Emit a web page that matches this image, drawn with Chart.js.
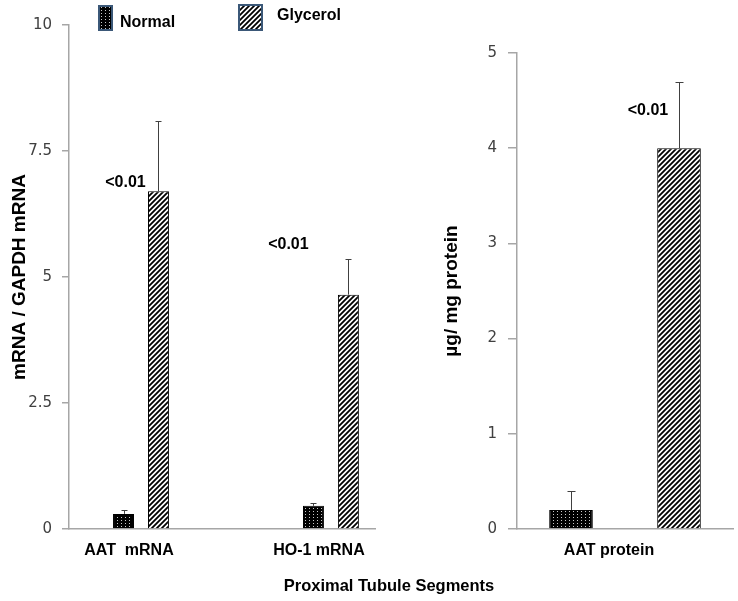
<!DOCTYPE html>
<html>
<head>
<meta charset="utf-8">
<script src="https://cdn.jsdelivr.net/npm/chart.js@4.4.0/dist/chart.umd.min.js"></script>
<style>
  body { margin: 0; background: #fff; width: 738px; height: 601px; position: relative; overflow: hidden; }
  canvas { position: absolute; top: 0; }
  #mrnaChart { left: 0; }
  #proteinChart { left: 420px; }
  #xTitle { position: absolute; left: 0; width: 778px; top: 576px; text-align: center;
            font: bold 16.5px "Liberation Sans", Arial, sans-serif; color: #000; }
</style>
</head>
<body>
<canvas id="mrnaChart" width="420" height="601"></canvas>
<canvas id="proteinChart" width="318" height="601"></canvas>
<div id="xTitle">Proximal Tubule Segments</div>
<script>
// Data
const seriesNames = ['Normal', 'Glycerol'];
const pLabel = '<0.01';

const mrnaLabels = ['AAT  mRNA', 'HO-1 mRNA'];
const mrnaNormal = [0.30, 0.46];
const mrnaNormalErr = [0.08, 0.05];
const mrnaGlycerol = [6.70, 4.65];
const mrnaGlycerolErr = [1.40, 0.70];
const mrnaTicks = [0, 2.5, 5, 7.5, 10];

const proteinLabels = ['AAT protein'];
const proteinNormal = [0.20];
const proteinNormalErr = [0.20];
const proteinGlycerol = [4.00];
const proteinGlycerolErr = [0.70];
const proteinTicks = [0, 1, 2, 3, 4, 5];

const boldFont = '"Liberation Sans", Arial, sans-serif';
const axisGray = '#a6a6a6';

// Fill patterns (dotted black, diagonal stripes)
function dotPattern(ctx) {
    const c = document.createElement('canvas');
    c.width = 4; c.height = 3;
    const g = c.getContext('2d');
    g.fillStyle = '#000';
    g.fillRect(0, 0, 4, 3);
    g.fillStyle = '#c8c8c8';
    g.fillRect(1, 1, 1, 1);
    return ctx.createPattern(c, 'repeat');
}

function stripePattern(ctx) {
    const s = 5;
    const c = document.createElement('canvas');
    c.width = s; c.height = s;
    const g = c.getContext('2d');
    g.fillStyle = '#fff';
    g.fillRect(0, 0, s, s);
    g.strokeStyle = '#000';
    g.lineWidth = 1.8;
    g.beginPath();
    g.moveTo(-1, 1); g.lineTo(1, -1);
    g.moveTo(0, s); g.lineTo(s, 0);
    g.moveTo(s - 1, s + 1); g.lineTo(s + 1, s - 1);
    g.stroke();
    return ctx.createPattern(c, 'repeat');
}

// Error bars (upper whisker only)
const errorBars = {
    id: 'errorBars',
    afterDatasetsDraw(chart, args, opts) {
        const ctx = chart.ctx;
        const y = chart.scales.y;
        ctx.save();
        ctx.strokeStyle = '#404040';
        ctx.lineWidth = 1;
        opts.errors.forEach((errs, di) => {
            const meta = chart.getDatasetMeta(di);
            meta.data.forEach((bar, i) => {
                const v = chart.data.datasets[di].data[i];
                const top = Math.round(y.getPixelForValue(v + errs[i])) + 0.5;
                const x = Math.round(bar.x) + 0.5;
                ctx.beginPath();
                ctx.moveTo(x, bar.y);
                ctx.lineTo(x, top);
                ctx.moveTo(x - opts.cap, top);
                ctx.lineTo(x + opts.cap, top);
                ctx.stroke();
            });
        });
        ctx.restore();
    }
};

// "<0.01" notes next to the glycerol bars
const pNotes = {
    id: 'pNotes',
    afterDatasetsDraw(chart, args, opts) {
        const ctx = chart.ctx;
        const meta = chart.getDatasetMeta(1);
        ctx.save();
        ctx.font = 'bold 16px ' + boldFont;
        ctx.fillStyle = '#000';
        ctx.textAlign = 'center';
        ctx.textBaseline = 'middle';
        opts.notes.forEach((n, i) => {
            const bar = meta.data[i];
            ctx.fillText(pLabel, bar.x + n.dx, bar.y + n.dy);
        });
        ctx.restore();
    }
};

// Legend boxes at the top of the left chart
const legendBoxes = {
    id: 'legendBoxes',
    afterDraw(chart, args, opts) {
        const ctx = chart.ctx;
        ctx.save();
        opts.items.forEach((it, i) => {
            ctx.fillStyle = chart.data.datasets[i].backgroundColor;
            ctx.fillRect(it.x, it.y, it.w, it.h);
            ctx.strokeStyle = '#3b5878';
            ctx.lineWidth = 2;
            ctx.strokeRect(it.x, it.y, it.w, it.h);
            ctx.fillStyle = '#000';
            ctx.font = 'bold 16px ' + boldFont;
            ctx.textAlign = 'left';
            ctx.textBaseline = 'middle';
            ctx.fillText(seriesNames[i], it.tx, it.ty);
        });
        ctx.restore();
    }
};

function yScale(ticks, title, tickLen, pad, width, titlePad) {
    return {
        min: ticks[0],
        max: ticks[ticks.length - 1],
        afterBuildTicks: s => { s.ticks = ticks.map(v => ({ value: v })); },
        afterFit: s => { s.width = width; },
        grid: { drawOnChartArea: false, drawTicks: true, tickLength: tickLen, color: axisGray, lineWidth: 1.5 },
        border: { display: true, color: axisGray, width: 1.5 },
        ticks: { padding: pad, color: '#404040', font: { family: 'DejaVu Sans', size: 15 } },
        title: { display: true, text: title, color: '#000', padding: { top: titlePad, bottom: 0 },
                 font: { family: boldFont, size: 19, weight: 'bold' } }
    };
}

const xTickStyle = { color: '#000', font: { family: boldFont, size: 16, weight: 'bold' }, maxRotation: 0, padding: 12 };

// Left chart: mRNA
const mCtx = document.getElementById('mrnaChart').getContext('2d');
new Chart(mCtx, {
    type: 'bar',
    data: {
        labels: mrnaLabels.map((_, i) => i),
        datasets: [
            { label: seriesNames[0], data: mrnaNormal, backgroundColor: dotPattern(mCtx), borderColor: '#000', borderWidth: 1 },
            { label: seriesNames[1], data: mrnaGlycerol, backgroundColor: stripePattern(mCtx), borderColor: '#000', borderWidth: 1 }
        ]
    },
    options: {
        responsive: false,
        animation: false,
        devicePixelRatio: 1,
        layout: { padding: { top: 25, right: 45, bottom: 0, left: 0 } },
        categoryPercentage: 0.368,
        barPercentage: 0.6,
        scales: {
            x: {
                type: 'linear',
                offset: false,
                bounds: 'data',
                min: -0.379,
                max: 1.232,
                afterBuildTicks: s => { s.ticks = mrnaLabels.map((_, i) => ({ value: i })); },
                afterFit: s => { s.height = 72; },
                grid: { display: false, drawTicks: false },
                border: { display: true, color: axisGray, width: 1.5 },
                ticks: Object.assign({ labelOffset: -12, callback: v => mrnaLabels[v] }, xTickStyle)
            },
            y: yScale(mrnaTicks, 'mRNA / GAPDH mRNA', 7, 10, 69, 8)
        },
        plugins: {
            legend: { display: false },
            tooltip: { enabled: false },
            errorBars: { errors: [mrnaNormalErr, mrnaGlycerolErr], cap: 3 },
            pNotes: { notes: [{ dx: -33, dy: -9 }, { dx: -60, dy: -50 }] },
            legendBoxes: { items: [
                { x: 99, y: 6, w: 13, h: 24, tx: 120, ty: 23 },
                { x: 239, y: 5, w: 23, h: 25, tx: 277, ty: 16 }
            ] }
        }
    },
    plugins: [errorBars, pNotes, legendBoxes]
});

// Right chart: protein
const pCtx = document.getElementById('proteinChart').getContext('2d');
new Chart(pCtx, {
    type: 'bar',
    data: {
        labels: proteinLabels,
        datasets: [
            { label: seriesNames[0], data: proteinNormal, backgroundColor: dotPattern(pCtx), borderColor: '#000', borderWidth: 1 },
            { label: seriesNames[1], data: proteinGlycerol, backgroundColor: stripePattern(pCtx), borderColor: '#000', borderWidth: 1 }
        ]
    },
    options: {
        responsive: false,
        animation: false,
        devicePixelRatio: 1,
        layout: { padding: { top: 53, right: 5, bottom: 0, left: 0 } },
        categoryPercentage: 1.0,
        barPercentage: 0.404,
        scales: {
            x: {
                afterFit: s => { s.height = 72; },
                grid: { display: false, drawTicks: false },
                border: { display: true, color: axisGray, width: 1.5 },
                ticks: Object.assign({ labelOffset: -16 }, xTickStyle)
            },
            y: yScale(proteinTicks, 'µg/ mg protein', 9, 11, 97, 20)
        },
        plugins: {
            legend: { display: false },
            tooltip: { enabled: false },
            errorBars: { errors: [proteinNormalErr, proteinGlycerolErr], cap: 4 },
            pNotes: { notes: [{ dx: -31, dy: -38 }] }
        }
    },
    plugins: [errorBars, pNotes]
});
</script>
</body>
</html>
